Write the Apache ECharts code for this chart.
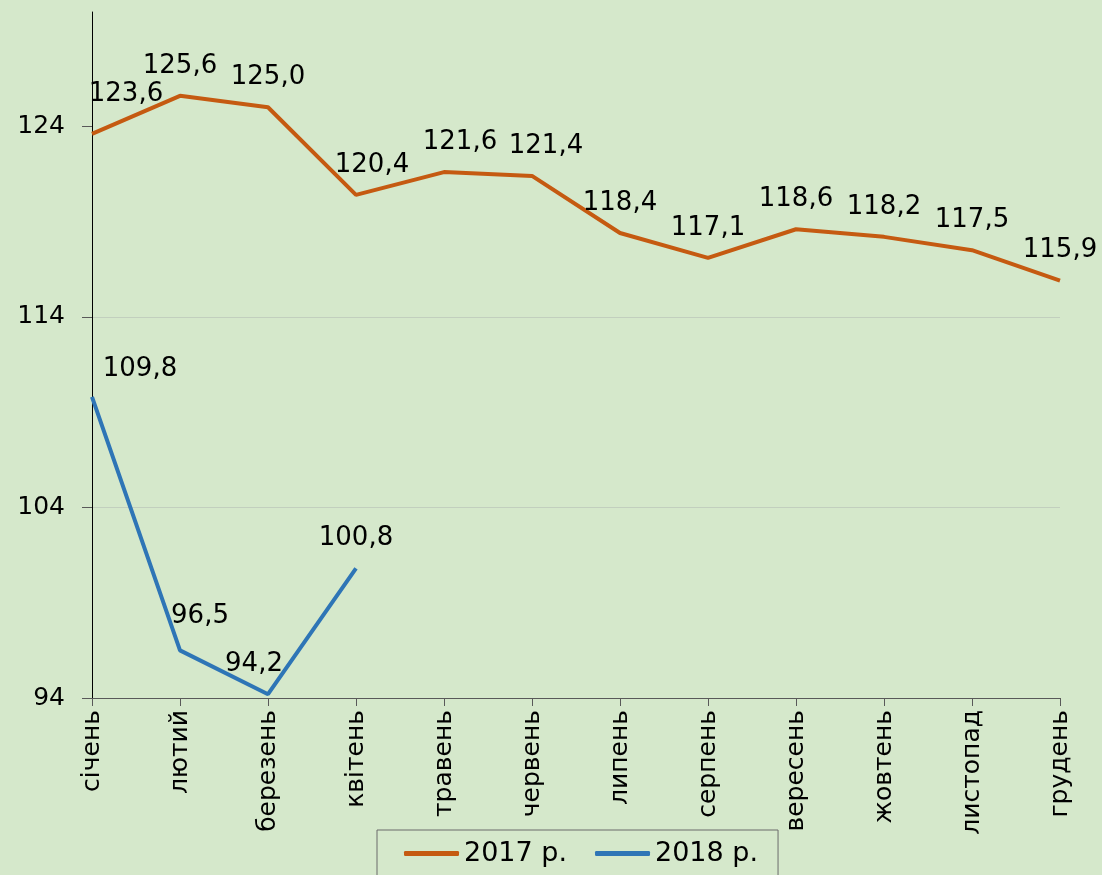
<!DOCTYPE html>
<html>
<head>
<meta charset="utf-8">
<script src="https://cdn.jsdelivr.net/npm/echarts@6/dist/echarts.min.js"></script>
<style>
  html, body { margin: 0; padding: 0; background: #d5e8cb; }
  #chart { width: 1102px; height: 875px; }
</style>
</head>
<body>
<div id="chart"></div>
<script>
const months = ['січень', 'лютий', 'березень', 'квітень', 'травень', 'червень',
  'липень', 'серпень', 'вересень', 'жовтень', 'листопад', 'грудень']
const values2017 = [123.6, 125.6, 125.0, 120.4, 121.6, 121.4, 118.4, 117.1, 118.6, 118.2, 117.5, 115.9]
const values2018 = [109.8, 96.5, 94.2, 100.8]
const yTicks = [94, 104, 114, 124]

const fmt = (v) => v.toFixed(1).replace('.', ',')

// label nudges, Excel placed a few of them off-centre
const shift2017 = { 0: [34, -10], 3: [16, 0], 4: [16, 0], 5: [14, 0] }
const shift2018 = { 0: [48, 2], 1: [20, -4], 2: [-14, 0] }

function withLabels(values, shifts) {
  return values.map((v, i) => {
    const item = { value: v }
    if (shifts[i]) item.label = { offset: shifts[i] }
    return item
  })
}

const chart = echarts.init(document.getElementById('chart'))
const font = 'DejaVu Sans'

const dataLabel = {
  show: true, position: 'top', distance: 17,
  fontSize: 26, color: '#000', fontFamily: font,
  formatter: (p) => fmt(p.value),
}

chart.setOption({
  backgroundColor: '#d5e8cb',
  animation: false,
  textStyle: { fontFamily: font },
  grid: { left: 92, right: 42, top: 12, bottom: 177 },
  legend: {
    top: 830,
    left: 377,
    data: ['2017 р.', '2018 р.'],
    icon: 'roundRect',
    itemWidth: 55,
    itemHeight: 5,
    itemGap: 28,
    padding: [10, 20, 30, 27],
    borderColor: '#6b6b6b',
    borderWidth: 1,
    textStyle: { fontFamily: font, fontSize: 27, color: '#000' },
  },
  xAxis: {
    type: 'category',
    data: months,
    boundaryGap: false,
    axisLine: { lineStyle: { color: '#595959', width: 1 } },
    axisTick: { lineStyle: { color: '#595959' }, length: 8 },
    axisLabel: { rotate: 90, fontSize: 25, color: '#000', fontFamily: font, margin: 12 },
  },
  yAxis: {
    type: 'value',
    min: 94,
    max: 130,
    interval: 10,
    axisLine: { show: true, lineStyle: { color: '#000', width: 1 } },
    axisTick: { show: true, length: 10, lineStyle: { color: '#595959' }, customValues: yTicks },
    axisLabel: { fontSize: 25, color: '#000', fontFamily: font, margin: 27, customValues: yTicks },
    splitLine: { show: true, showMaxLine: false, lineStyle: { color: '#c2cfbe', width: 1 } },
  },
  series: [
    {
      name: '2017 р.',
      type: 'line',
      data: withLabels(values2017, shift2017),
      symbol: 'circle',
      symbolSize: 0,
      color: '#c55a11',
      lineStyle: { width: 4, color: '#c55a11' },
      label: dataLabel,
    },
    {
      name: '2018 р.',
      type: 'line',
      data: withLabels(values2018, shift2018),
      symbol: 'circle',
      symbolSize: 0,
      color: '#2e75b6',
      lineStyle: { width: 4, color: '#2e75b6' },
      label: dataLabel,
    },
  ],
})
</script>
</body>
</html>
